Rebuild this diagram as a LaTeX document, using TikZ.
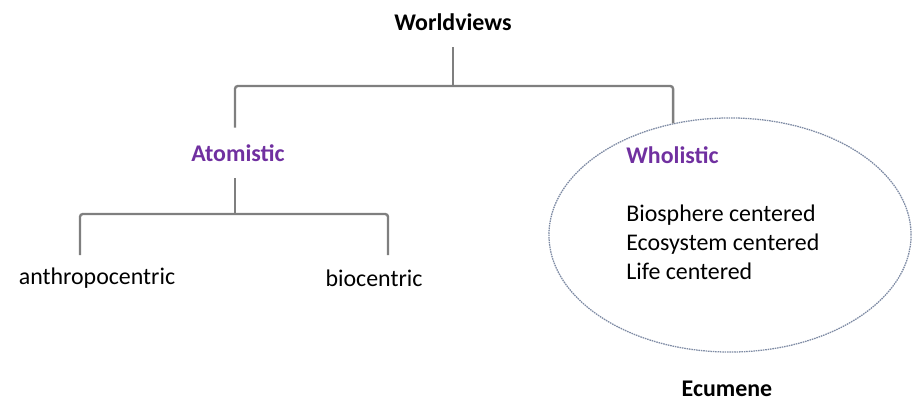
\documentclass[tikz,border=0pt]{standalone}
\usepackage{fontspec}
\setmainfont{Carlito}
\usepackage{tikz}
\usetikzlibrary{positioning,shapes.geometric,calc}
\definecolor{viewpurple}{HTML}{7030A0}
\definecolor{treegray}{HTML}{7F7F7F}
\definecolor{ringblue}{HTML}{7D8AA3}
\tikzset{
  lbl/.style={inner sep=0pt, font=\fontsize{17}{20.6}\selectfont},
  lblb/.style={lbl, font=\fontsize{17}{20.6}\selectfont\bfseries},
  lblp/.style={lblb, text=viewpurple},
  conn/.style={draw=treegray, line width=1.7pt, rounded corners=2pt},
  ring/.style={ellipse, draw=ringblue, line width=.9pt, dash pattern=on 1.1pt off .6pt, inner sep=0pt},
}
\begin{document}
\begin{tikzpicture}[x=0.025cm, y=-0.025cm]
  \useasboundingbox (0,0) rectangle (912,401);
  % headings
  \node[lblb, minimum height=1.25cm] (world) at (453,22) {Worldviews};
  \node[lblp, minimum height=1.25cm] (atom) at (238,153) {Atomistic};
  \node[ring, minimum width=9.05cm, minimum height=5.85cm] (eco) at (730,235) {};
  \node[lblp, anchor=west] (whole) at (626,155) {Wholistic};
  \node[lbl, anchor=west, align=left] (kinds) at (626,242) {Biosphere centered\\Ecosystem centered\\Life centered};
  \node[lblb] (ecumene) at (727,389) {Ecumene};
  % leaves
  \node[lbl] (anthro) at (97,278) {anthropocentric};
  \node[lbl] (bio) at (374,278) {biocentric};
  % tree
  \coordinate (fork1) at (453,86);
  \coordinate (fork2) at (235,214);
  \coordinate (aDrop) at (80,255);
  \coordinate (bDrop) at (388,255);
  \draw[conn] (world.south) -- (fork1);
  \draw[conn] (atom.north -| fork2) |- (fork1) -| (eco.117.6);
  \draw[conn] (atom.south -| fork2) -- (fork2);
  \draw[conn] (aDrop) |- (fork2) -| (bDrop);
\end{tikzpicture}
\end{document}
